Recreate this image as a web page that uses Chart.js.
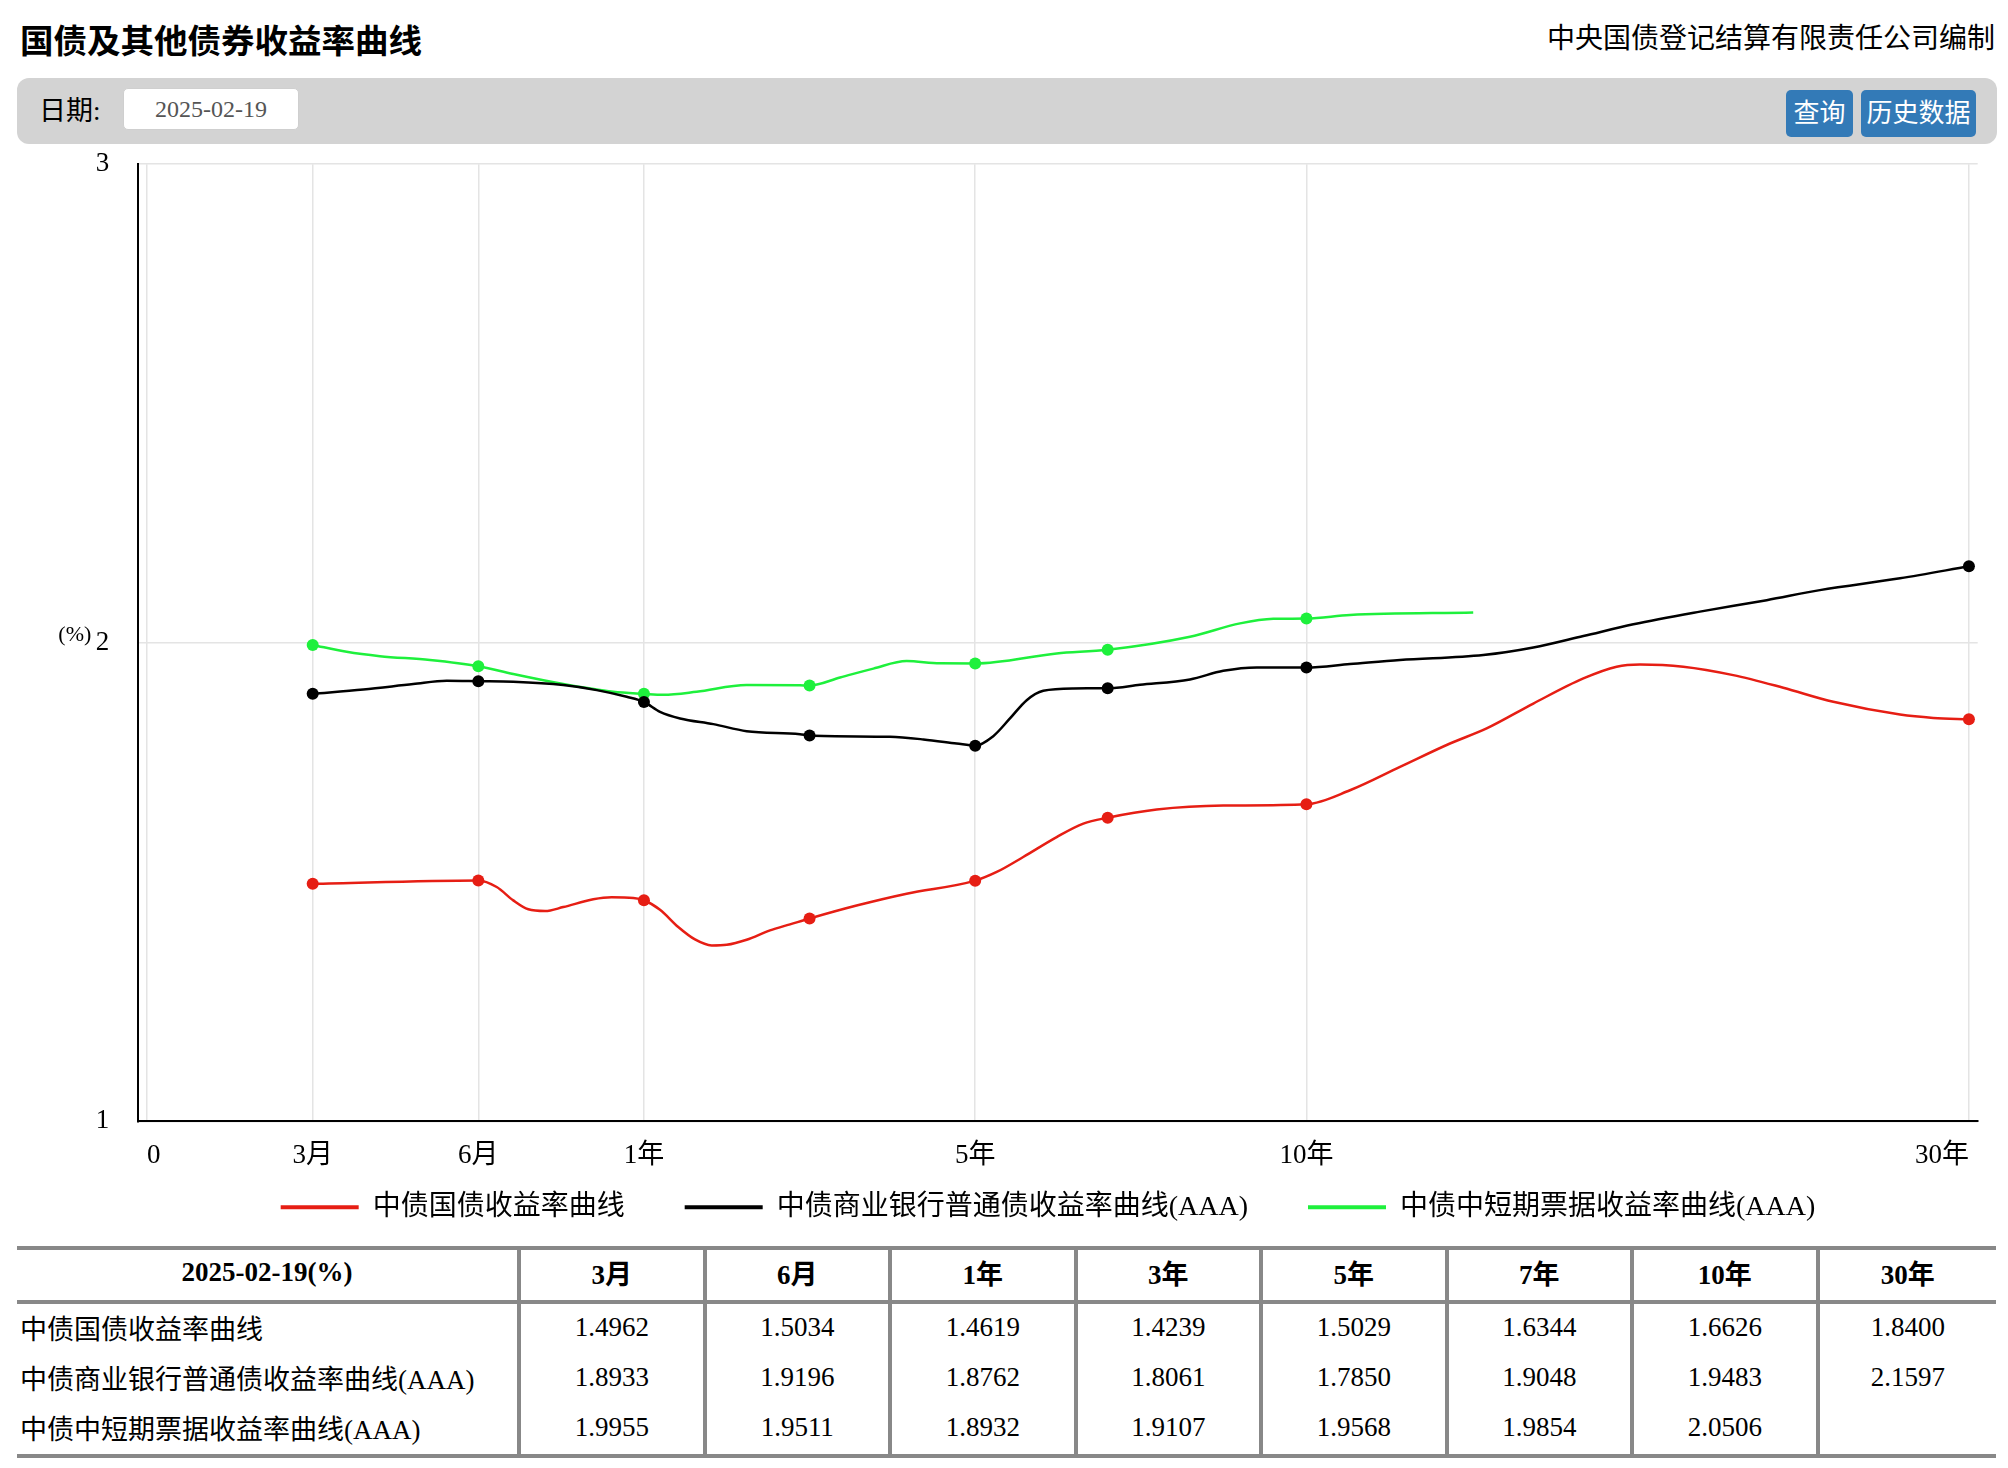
<!DOCTYPE html>
<html lang="zh-CN">
<head>
<meta charset="UTF-8">
<title>国债及其他债券收益率曲线</title>
<script src="https://cdn.jsdelivr.net/npm/chart.js@4/dist/chart.umd.min.js"></script>
<style>
    body { margin: 0; width: 2008px; height: 1468px; overflow: hidden; background: #fff; color: #000;
           font-family: "Liberation Serif", "Noto Sans CJK SC", serif; position: relative; }
    .title { position: absolute; left: 20px; top: 22px; font-size: 33.5px; line-height: 40px; font-weight: bold; }
    .source { position: absolute; right: 13px; top: 19px; font-size: 28px; line-height: 40px; }
    .toolbar { position: absolute; left: 17px; top: 78px; width: 1980px; height: 66px; background: #d3d3d3; border-radius: 12px; }
    .toolbar .lbl { position: absolute; left: 22px; top: 13px; font-size: 27px; line-height: 40px; }
    .toolbar .date { position: absolute; left: 106px; top: 10px; width: 174px; height: 40px; background: #fff;
                     border: 1px solid #cfcfcf; border-radius: 5px; text-align: center; font-size: 24px; line-height: 40px; color: #555; }
    .toolbar .btn { position: absolute; top: 12px; height: 47px; background: #337ab7; color: #fff; border-radius: 5px;
                    font-size: 26px; line-height: 47px; text-align: center; }
    .chart-box { position: absolute; left: 0; top: 118.5px; width: 2008px; height: 1112.2px; }
    table { position: absolute; left: 17px; top: 1246px; width: 1979px; border-collapse: collapse; table-layout: fixed; font-size: 27px; }
    th, td { padding: 0; text-align: center; border-left: 4px solid #888; }
    th:first-child, td:first-child { border-left: none; }
    thead th { height: 44px; padding-bottom: 6px; border-top: 4px solid #888; border-bottom: 4px solid #888; font-weight: bold; }
    tbody td { height: 46px; padding-bottom: 4px; }
    tbody tr:last-child td { border-bottom: 4px solid #888; }
    tbody td:first-child { text-align: left; padding-left: 3px; }
</style>
</head>
<body>
    <div class="title">国债及其他债券收益率曲线</div>
    <div class="source">中央国债登记结算有限责任公司编制</div>

    <div class="toolbar">
        <div class="lbl">日期:</div>
        <div class="date">2025-02-19</div>
        <div class="btn" style="left:1769px;width:67px;">查询</div>
        <div class="btn" style="left:1844px;width:115px;">历史数据</div>
    </div>

    <div class="chart-box"><canvas id="curveChart"></canvas></div>

    <table id="yieldTable">
        <colgroup id="cols"></colgroup>
        <thead><tr id="headRow"></tr></thead>
        <tbody id="bodyRows"></tbody>
    </table>

<script>
// eixo x: posição no gráfico (escala por trechos do original) e rótulos
const tickPos = [0, 1, 2, 3, 5, 7, 11];
const tickLabels = ['0', '3月', '6月', '1年', '5年', '10年', '30年'];

// prazos da tabela e sua posição no eixo x
const tenorNames = ['3月', '6月', '1年', '3年', '5年', '7年', '10年', '30年'];
const tenorPos = [1, 2, 3, 4, 5, 5.8, 7, 11];

const dateLabel = '2025-02-19';
const seriesNames = ['中债国债收益率曲线', '中债商业银行普通债收益率曲线(AAA)', '中债中短期票据收益率曲线(AAA)'];
const seriesColors = ['#e61e14', '#000000', '#1ef03c'];

// valores nos prazos-chave (%)
const govKey  = [1.4962, 1.5034, 1.4619, 1.4239, 1.5029, 1.6344, 1.6626, 1.8400];
const bankKey = [1.8933, 1.9196, 1.8762, 1.8061, 1.7850, 1.9048, 1.9483, 2.1597];
const cpKey   = [1.9955, 1.9511, 1.8932, 1.9107, 1.9568, 1.9854, 2.0506, null];

// pontos intermediários das curvas
const govMidX  = [2.111, 2.211, 2.302, 2.403, 2.513, 2.694, 2.805, 2.936, 3.097, 3.207, 3.308, 3.409, 3.500, 3.620, 3.761, 3.882,
                  4.284, 4.586, 5.130, 5.290, 5.492, 5.653, 6.096, 6.498, 7.263, 7.565, 7.867, 8.088, 8.370, 8.672, 8.873, 9.014,
                  9.275, 9.577, 9.879, 10.181, 10.584, 10.785];
const govMidY  = [1.4896, 1.4617, 1.4430, 1.4393, 1.4477, 1.4638, 1.4680, 1.4665, 1.4420, 1.4060, 1.3800, 1.3676, 1.3690, 1.3795, 1.3990, 1.4115,
                  1.4510, 1.4757, 1.5210, 1.5523, 1.5940, 1.6220, 1.6515, 1.6598, 1.6918, 1.7406, 1.7895, 1.8210, 1.8730, 1.9255, 1.9500, 1.9545,
                  1.9500, 1.9324, 1.9060, 1.8766, 1.8500, 1.8430];
const bankMidX = [1.306, 1.607, 1.809, 2.211, 2.513, 2.715, 2.896, 3.097, 3.218, 3.419, 3.620, 3.942, 4.485, 4.687, 4.888,
                  5.109, 5.210, 5.311, 5.411, 5.592, 5.995, 6.297, 6.498, 6.700, 7.263, 7.565, 8.068, 8.370, 8.672, 8.974,
                  9.376, 9.779, 10.100, 10.584];
const bankMidY = [1.9025, 1.9136, 1.9205, 1.9184, 1.9115, 1.9010, 1.8870, 1.8557, 1.8418, 1.8300, 1.8153, 1.8090, 1.8034, 1.7980, 1.7895,
                  1.8048, 1.8418, 1.8800, 1.8996, 1.9046, 1.9120, 1.9234, 1.9414, 1.9485, 1.9554, 1.9638, 1.9743, 1.9900, 2.0140, 2.0385,
                  2.0650, 2.0890, 2.1100, 2.1347];
const cpMidX   = [1.205, 1.406, 1.708, 2.211, 2.513, 2.815, 3.117, 3.318, 3.620, 3.942, 4.184, 4.385, 4.586, 4.787,
                  5.492, 6.297, 6.599, 6.800, 7.263, 8.007];
const cpMidY   = [1.9810, 1.9720, 1.9640, 1.9345, 1.9136, 1.8975, 1.8912, 1.8975, 1.9115, 1.9110, 1.9274, 1.9460, 1.9617, 1.9570,
                  1.9777, 2.0126, 2.0405, 2.0500, 2.0580, 2.0630];

function buildCurve(keyVals, midX, midY) {
    const pts = [];
    tenorPos.forEach((x, i) => {
        if (keyVals[i] !== null) pts.push({ x: x, y: keyVals[i], key: true });
    });
    midX.forEach((x, i) => pts.push({ x: x, y: midY[i], key: false }));
    return pts.sort((a, b) => a.x - b.x);
}

const curves = [
    buildCurve(govKey, govMidX, govMidY),
    buildCurve(bankKey, bankMidX, bankMidY),
    buildCurve(cpKey, cpMidX, cpMidY)
];

const fontFamily = '"Liberation Serif", "Noto Sans CJK SC", serif';

// os rótulos dos eixos ficam fora das caixas estreitas: alarga a área de recorte
const unclipTicks = {
    id: 'unclipTicks',
    afterLayout(chart) {
        chart.scales.y.left = 0;
        chart.scales.x.bottom = chart.height;
    }
};

// rótulo (%) ao lado do eixo y
const percentLabel = {
    id: 'percentLabel',
    afterDraw(chart) {
        const y = chart.scales.y;
        const ctx = chart.ctx;
        ctx.save();
        ctx.font = '22px ' + fontFamily;
        ctx.fillStyle = '#000';
        ctx.textAlign = 'right';
        ctx.textBaseline = 'alphabetic';
        ctx.fillText('(%)', y.right - 47, y.getPixelForValue(2) - 2);
        ctx.restore();
    }
};

new Chart(document.getElementById('curveChart'), {
    type: 'line',
    data: {
        datasets: curves.map((pts, i) => ({
            label: seriesNames[i],
            data: pts,
            borderColor: seriesColors[i],
            backgroundColor: seriesColors[i],
            borderWidth: 2.5,
            fill: false,
            cubicInterpolationMode: 'monotone',
            pointRadius: ctx => (ctx.raw && ctx.raw.key ? 6 : 0),
            pointBorderWidth: 0,
            pointBackgroundColor: seriesColors[i],
            pointHoverRadius: 0
        }))
    },
    options: {
        responsive: true,
        maintainAspectRatio: false,
        animation: false,
        layout: { padding: { top: 30, left: 118.3, right: 30.3, bottom: 0 } },
        scales: {
            x: {
                type: 'linear',
                min: -0.053,
                max: 11.053,
                afterBuildTicks: scale => { scale.ticks = tickPos.map(v => ({ value: v })); },
                afterFit: scale => { scale.height = 11.9; },
                ticks: {
                    autoSkip: false,
                    maxRotation: 0,
                    align: 'inner',
                    padding: 18,
                    color: '#000',
                    font: { family: fontFamily, size: 27 },
                    callback: value => tickLabels[tickPos.indexOf(value)]
                },
                grid: { color: '#e4e4e4', lineWidth: 1.5, drawTicks: false },
                border: { color: '#000', width: 2 }
            },
            y: {
                min: 1,
                max: 3,
                afterFit: scale => { scale.width = 20; },
                ticks: {
                    stepSize: 1,
                    padding: 29,
                    color: '#000',
                    font: { family: fontFamily, size: 27 }
                },
                grid: { color: '#e4e4e4', lineWidth: 1.5, drawTicks: false },
                border: { color: '#000', width: 2 }
            }
        },
        plugins: {
            legend: {
                position: 'bottom',
                labels: {
                    boxWidth: 78,
                    boxHeight: 4,
                    padding: 60,
                    color: '#000',
                    font: { family: fontFamily, size: 28 },
                    generateLabels: chart => Chart.defaults.plugins.legend.labels.generateLabels(chart)
                        .map(item => Object.assign(item, { lineWidth: 0 }))
                }
            },
            tooltip: { enabled: false }
        }
    },
    plugins: [unclipTicks, percentLabel]
});

// tabela de valores
const cols = document.getElementById('cols');
cols.innerHTML = '<col style="width:502px">' + tenorNames.map((t, i) => i < 7 ? '<col style="width:185.5px">' : '<col>').join('');
document.getElementById('headRow').innerHTML =
    '<th>' + dateLabel + '(%)</th>' + tenorNames.map(t => '<th>' + t + '</th>').join('');
const keyRows = [govKey, bankKey, cpKey];
document.getElementById('bodyRows').innerHTML = keyRows.map((vals, i) =>
    '<tr><td>' + seriesNames[i] + '</td>' +
    vals.map(v => '<td>' + (v === null ? '' : v.toFixed(4)) + '</td>').join('') + '</tr>'
).join('');
</script>
</body>
</html>
